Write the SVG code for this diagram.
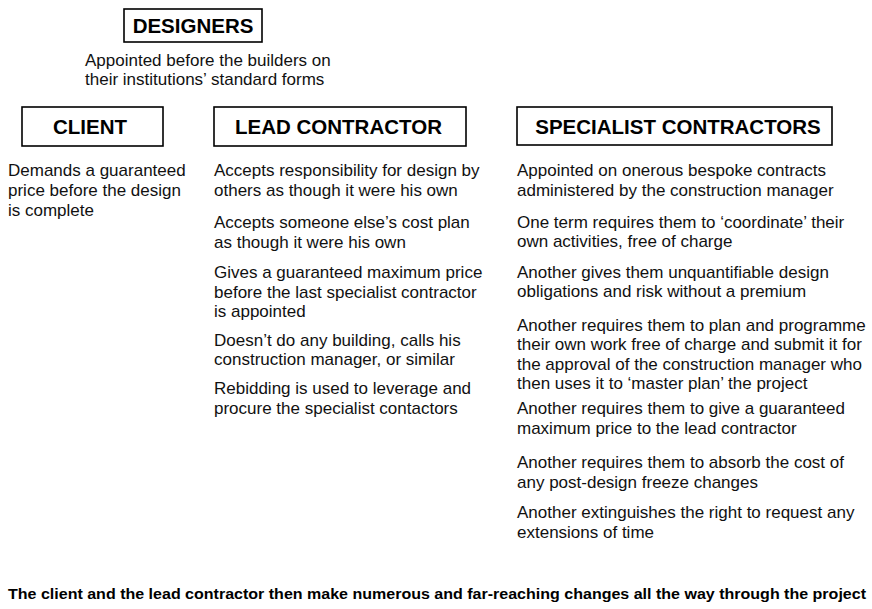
<svg xmlns="http://www.w3.org/2000/svg" width="872" height="609" viewBox="0 0 872 609">
  <style>
    .box { fill: #ffffff; stroke: #000000; stroke-width: 1.6; }
    .head { font-family: "Liberation Sans", Arial, Helvetica, sans-serif; font-weight: bold; font-size: 20.5px; fill: #000000; }
    .body { font-family: "Liberation Sans", Arial, Helvetica, sans-serif; font-size: 17px; fill: #111111; }
    .foot { font-family: "Liberation Sans", Arial, Helvetica, sans-serif; font-weight: bold; font-size: 15px; fill: #000000; }
  </style>
  <rect width="872" height="609" fill="#ffffff"/>

  <g id="designers">
    <rect class="box" x="124" y="9" width="138" height="33"/>
    <text class="head" x="193" y="32.5" text-anchor="middle">DESIGNERS</text>
    <text class="body" x="85" y="66">Appointed before the builders on</text>
    <text class="body" x="85" y="85">their institutions’ standard forms</text>
  </g>

  <g id="client">
    <rect class="box" x="22" y="107" width="141" height="39"/>
    <text class="head" x="90" y="133.5" text-anchor="middle">CLIENT</text>
    <text class="body" x="8" y="176">Demands a guaranteed</text>
    <text class="body" x="8" y="196">price before the design</text>
    <text class="body" x="8" y="216">is complete</text>
  </g>

  <g id="lead-contractor">
    <rect class="box" x="214" y="107" width="252" height="39"/>
    <text class="head" x="338.5" y="133.5" text-anchor="middle">LEAD CONTRACTOR</text>
    <text class="body" x="214" y="176">Accepts responsibility for design by</text>
    <text class="body" x="214" y="196">others as though it were his own</text>
    <text class="body" x="214" y="228">Accepts someone else’s cost plan</text>
    <text class="body" x="214" y="248">as though it were his own</text>
    <text class="body" x="214" y="278">Gives a guaranteed maximum price</text>
    <text class="body" x="214" y="297.5">before the last specialist contractor</text>
    <text class="body" x="214" y="317">is appointed</text>
    <text class="body" x="214" y="346">Doesn’t do any building, calls his</text>
    <text class="body" x="214" y="365">construction manager, or similar</text>
    <text class="body" x="214" y="394">Rebidding is used to leverage and</text>
    <text class="body" x="214" y="414">procure the specialist contactors</text>
  </g>

  <g id="specialist-contractors">
    <rect class="box" x="517" y="107" width="315" height="38"/>
    <text class="head" x="678" y="133.5" text-anchor="middle">SPECIALIST CONTRACTORS</text>
    <text class="body" x="517" y="176">Appointed on onerous bespoke contracts</text>
    <text class="body" x="517" y="196">administered by the construction manager</text>
    <text class="body" x="517" y="228">One term requires them to ‘coordinate’ their</text>
    <text class="body" x="517" y="247">own activities, free of charge</text>
    <text class="body" x="517" y="278">Another gives them unquantifiable design</text>
    <text class="body" x="517" y="297">obligations and risk without a premium</text>
    <text class="body" x="517" y="331">Another requires them to plan and programme</text>
    <text class="body" x="517" y="350">their own work free of charge and submit it for</text>
    <text class="body" x="517" y="370">the approval of the construction manager who</text>
    <text class="body" x="517" y="389">then uses it to ‘master plan’ the project</text>
    <text class="body" x="517" y="414">Another requires them to give a guaranteed</text>
    <text class="body" x="517" y="434">maximum price to the lead contractor</text>
    <text class="body" x="517" y="468">Another requires them to absorb the cost of</text>
    <text class="body" x="517" y="488">any post-design freeze changes</text>
    <text class="body" x="517" y="518">Another extinguishes the right to request any</text>
    <text class="body" x="517" y="538">extensions of time</text>
  </g>

  <g id="footer">
    <text class="foot" x="8" y="599" textLength="858" lengthAdjust="spacingAndGlyphs">The client and the lead contractor then make numerous and far-reaching changes all the way through the project</text>
  </g>
</svg>
